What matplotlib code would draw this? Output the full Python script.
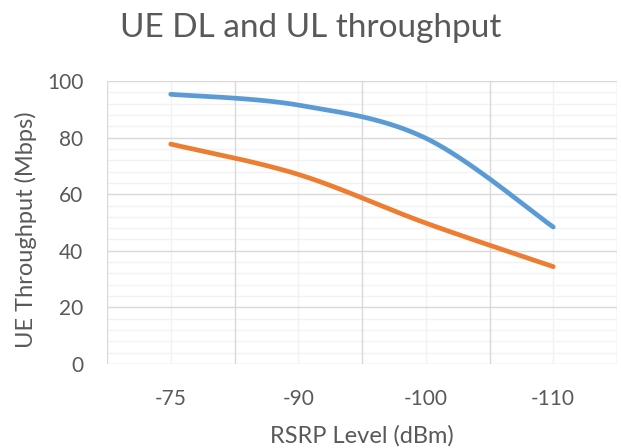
import numpy as np
import matplotlib
matplotlib.use("Agg")
import matplotlib.pyplot as plt
from matplotlib.ticker import MultipleLocator, FixedLocator

categories = ["-75", "-90", "-100", "-110"]
dl_values = [95.3, 91.5, 79.8, 48.4]
ul_values = [77.7, 67.0, 49.8, 34.4]

plt.rcParams['font.family'] = ['Lato', 'DejaVu Sans']
TXT = '#595959'


def excel_smooth(y, n=60):
    """Catmull-Rom style cubic Bezier smoothing like Excel's smoothed line."""
    x = np.arange(len(y), dtype=float)
    y = np.asarray(y, dtype=float)
    pts = np.column_stack([x, y])
    out = []
    for i in range(len(pts) - 1):
        p0 = pts[i - 1] if i > 0 else pts[i]
        p1 = pts[i]
        p2 = pts[i + 1]
        p3 = pts[i + 2] if i + 2 < len(pts) else pts[i + 1]
        c1 = p1 + (p2 - p0) / 6.0
        c2 = p2 - (p3 - p1) / 6.0
        t = np.linspace(0, 1, n)[:, None]
        seg = ((1 - t) ** 3) * p1 + 3 * ((1 - t) ** 2) * t * c1 + 3 * (1 - t) * t ** 2 * c2 + t ** 3 * p2
        out.append(seg if i == 0 else seg[1:])
    seg = np.vstack(out)
    return seg[:, 0], seg[:, 1]


fig = plt.figure(figsize=(6.21, 4.48), dpi=100)
ax = fig.add_axes([107 / 621, (448 - 364) / 448, 510 / 621, 283 / 448])

ax.set_xlim(-0.5, len(categories) - 0.5)
ax.set_ylim(0, 100)
ax.yaxis.set_major_locator(MultipleLocator(20))
ax.yaxis.set_minor_locator(MultipleLocator(4))
ax.xaxis.set_major_locator(FixedLocator(np.arange(len(categories))))
ax.set_xticklabels(categories)
for xv in np.arange(-0.5, len(categories), 1.0):
    ax.axvline(xv, color='#d9d9d9', lw=1.0, zorder=1)
for xv in np.arange(len(categories)):
    ax.axvline(xv, color='#f2f2f2', lw=1.0, zorder=0.5)
for yv in np.arange(0, 101, 4):
    if yv % 20 == 0:
        ax.axhline(yv, color='#d9d9d9', lw=1.0, zorder=1)
    else:
        ax.axhline(yv, color='#f2f2f2', lw=1.0, zorder=0.5)

for s in ax.spines.values():
    s.set_visible(False)

ax.xaxis.set_tick_params(which='both', length=0, colors=TXT, labelsize=15, pad=18)
ax.yaxis.set_tick_params(which='both', length=0, colors=TXT, labelsize=15, pad=17)

xs, ys = excel_smooth(dl_values)
ax.plot(xs, ys, color='#5b9bd5', lw=3.4, solid_capstyle='round', zorder=3)
xs, ys = excel_smooth(ul_values)
ax.plot(xs, ys, color='#ed7d31', lw=3.4, solid_capstyle='round', zorder=3)

ax.set_ylabel("UE Throughput (Mbps)", color=TXT, fontsize=17)
ax.yaxis.set_label_coords(-0.159, 0.473)
ax.yaxis.label.set_va('center')
ax.set_xlabel("RSRP Level (dBm)", color=TXT, fontsize=17)
ax.xaxis.set_label_coords(0.5, -0.254)
ax.xaxis.label.set_va('center')

fig.text(311 / 621, 1 - 37 / 448, "UE DL and UL throughput", ha='center', va='baseline',
         color=TXT, fontsize=24)

fig.savefig("out.png", dpi=100)
